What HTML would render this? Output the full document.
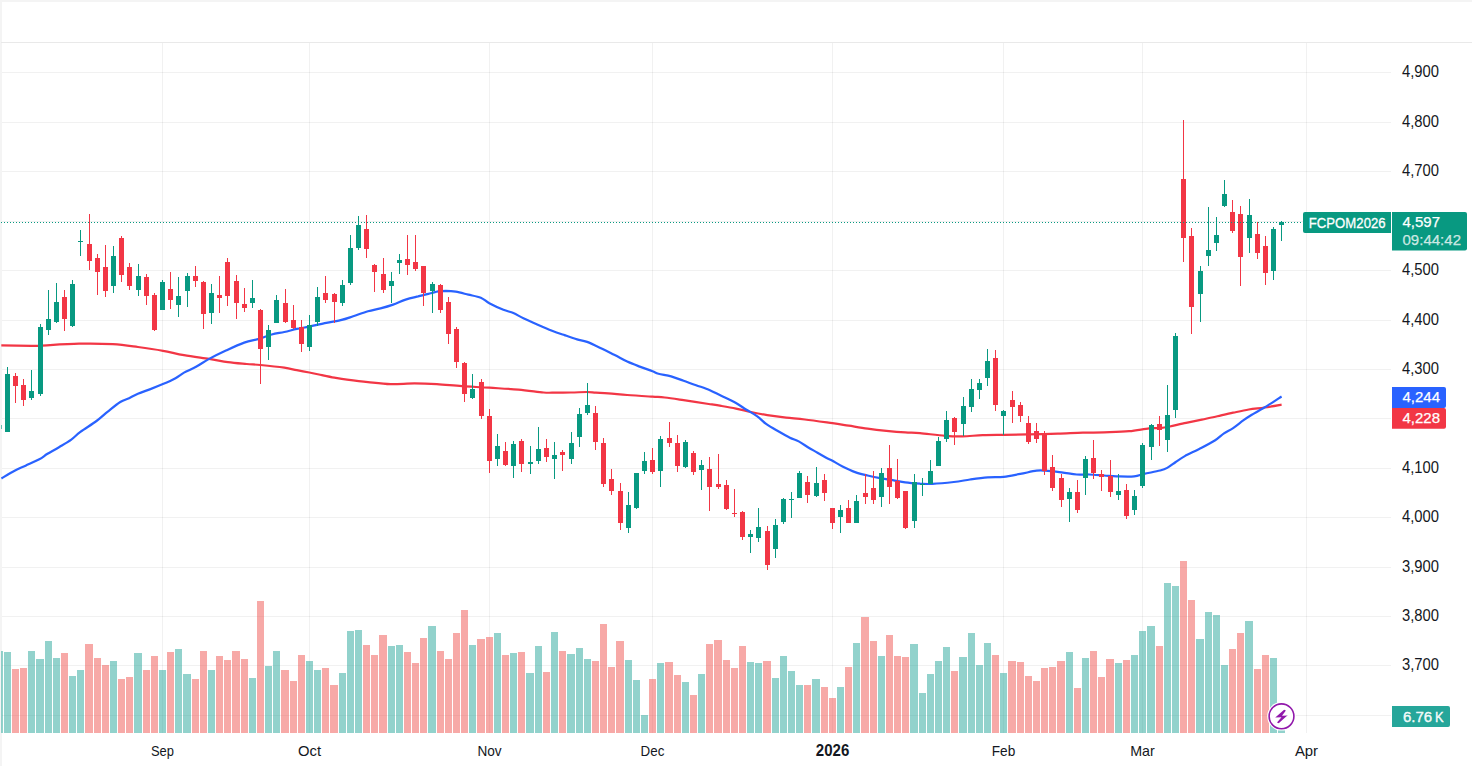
<!DOCTYPE html>
<html><head><meta charset="utf-8"><title>FCPOM2026</title>
<style>html,body{margin:0;padding:0;background:#fff;overflow:hidden}svg{display:block}text{font-family:"Liberation Sans",sans-serif}</style>
</head><body>
<svg width="1472" height="766" viewBox="0 0 1472 766">
<rect x="0" y="0" width="1472" height="766" fill="#ffffff"/>
<g shape-rendering="crispEdges">
<rect x="0" y="0" width="1472" height="2" fill="#f4f4f4"/>
<rect x="0" y="0" width="2" height="766" fill="#f4f4f4"/>
<rect x="1" y="42" width="1471" height="1" fill="#e9e9e9"/>
<rect x="2" y="72" width="1389" height="1" fill="rgba(0,0,0,0.055)"/>
<rect x="2" y="122" width="1389" height="1" fill="rgba(0,0,0,0.055)"/>
<rect x="2" y="171" width="1389" height="1" fill="rgba(0,0,0,0.055)"/>
<rect x="2" y="221" width="1389" height="1" fill="rgba(0,0,0,0.055)"/>
<rect x="2" y="270" width="1389" height="1" fill="rgba(0,0,0,0.055)"/>
<rect x="2" y="320" width="1389" height="1" fill="rgba(0,0,0,0.055)"/>
<rect x="2" y="369" width="1389" height="1" fill="rgba(0,0,0,0.055)"/>
<rect x="2" y="418" width="1389" height="1" fill="rgba(0,0,0,0.055)"/>
<rect x="2" y="468" width="1389" height="1" fill="rgba(0,0,0,0.055)"/>
<rect x="2" y="517" width="1389" height="1" fill="rgba(0,0,0,0.055)"/>
<rect x="2" y="567" width="1389" height="1" fill="rgba(0,0,0,0.055)"/>
<rect x="2" y="616" width="1389" height="1" fill="rgba(0,0,0,0.055)"/>
<rect x="2" y="665" width="1389" height="1" fill="rgba(0,0,0,0.055)"/>
<rect x="2" y="715" width="1389" height="1" fill="rgba(0,0,0,0.055)"/>
<rect x="162" y="43" width="1" height="690" fill="rgba(0,0,0,0.055)"/>
<rect x="309" y="43" width="1" height="690" fill="rgba(0,0,0,0.055)"/>
<rect x="489" y="43" width="1" height="690" fill="rgba(0,0,0,0.055)"/>
<rect x="652" y="43" width="1" height="690" fill="rgba(0,0,0,0.055)"/>
<rect x="832" y="43" width="1" height="690" fill="rgba(0,0,0,0.055)"/>
<rect x="1003" y="43" width="1" height="690" fill="rgba(0,0,0,0.055)"/>
<rect x="1142" y="43" width="1" height="690" fill="rgba(0,0,0,0.055)"/>
<rect x="1306" y="43" width="1" height="690" fill="rgba(0,0,0,0.055)"/>
<rect x="4" y="652" width="7" height="81" fill="rgba(38,166,154,0.5)"/>
<rect x="12" y="669" width="7" height="64" fill="rgba(239,83,80,0.5)"/>
<rect x="20" y="668" width="7" height="65" fill="rgba(239,83,80,0.5)"/>
<rect x="28" y="651" width="7" height="82" fill="rgba(38,166,154,0.5)"/>
<rect x="36" y="659" width="8" height="74" fill="rgba(38,166,154,0.5)"/>
<rect x="45" y="641" width="7" height="92" fill="rgba(38,166,154,0.5)"/>
<rect x="53" y="658" width="7" height="75" fill="rgba(38,166,154,0.5)"/>
<rect x="61" y="653" width="7" height="80" fill="rgba(239,83,80,0.5)"/>
<rect x="69" y="676" width="7" height="57" fill="rgba(38,166,154,0.5)"/>
<rect x="77" y="670" width="7" height="63" fill="rgba(38,166,154,0.5)"/>
<rect x="85" y="644" width="8" height="89" fill="rgba(239,83,80,0.5)"/>
<rect x="94" y="658" width="7" height="75" fill="rgba(239,83,80,0.5)"/>
<rect x="102" y="665" width="7" height="68" fill="rgba(239,83,80,0.5)"/>
<rect x="110" y="661" width="7" height="72" fill="rgba(38,166,154,0.5)"/>
<rect x="118" y="679" width="7" height="54" fill="rgba(239,83,80,0.5)"/>
<rect x="126" y="677" width="7" height="56" fill="rgba(239,83,80,0.5)"/>
<rect x="134" y="653" width="8" height="80" fill="rgba(38,166,154,0.5)"/>
<rect x="143" y="670" width="7" height="63" fill="rgba(239,83,80,0.5)"/>
<rect x="151" y="656" width="7" height="77" fill="rgba(239,83,80,0.5)"/>
<rect x="159" y="670" width="7" height="63" fill="rgba(38,166,154,0.5)"/>
<rect x="167" y="652" width="7" height="81" fill="rgba(239,83,80,0.5)"/>
<rect x="175" y="649" width="7" height="84" fill="rgba(38,166,154,0.5)"/>
<rect x="183" y="674" width="8" height="59" fill="rgba(38,166,154,0.5)"/>
<rect x="192" y="679" width="7" height="54" fill="rgba(239,83,80,0.5)"/>
<rect x="200" y="651" width="7" height="82" fill="rgba(239,83,80,0.5)"/>
<rect x="208" y="670" width="7" height="63" fill="rgba(38,166,154,0.5)"/>
<rect x="216" y="656" width="7" height="77" fill="rgba(239,83,80,0.5)"/>
<rect x="224" y="660" width="7" height="73" fill="rgba(239,83,80,0.5)"/>
<rect x="232" y="651" width="8" height="82" fill="rgba(239,83,80,0.5)"/>
<rect x="241" y="659" width="7" height="74" fill="rgba(239,83,80,0.5)"/>
<rect x="249" y="678" width="7" height="55" fill="rgba(38,166,154,0.5)"/>
<rect x="257" y="601" width="7" height="132" fill="rgba(239,83,80,0.5)"/>
<rect x="265" y="666" width="7" height="67" fill="rgba(38,166,154,0.5)"/>
<rect x="273" y="651" width="7" height="82" fill="rgba(38,166,154,0.5)"/>
<rect x="281" y="670" width="8" height="63" fill="rgba(239,83,80,0.5)"/>
<rect x="290" y="681" width="7" height="52" fill="rgba(239,83,80,0.5)"/>
<rect x="298" y="655" width="7" height="78" fill="rgba(239,83,80,0.5)"/>
<rect x="306" y="661" width="7" height="72" fill="rgba(38,166,154,0.5)"/>
<rect x="314" y="670" width="7" height="63" fill="rgba(38,166,154,0.5)"/>
<rect x="322" y="668" width="7" height="65" fill="rgba(239,83,80,0.5)"/>
<rect x="330" y="685" width="8" height="48" fill="rgba(239,83,80,0.5)"/>
<rect x="339" y="673" width="7" height="60" fill="rgba(38,166,154,0.5)"/>
<rect x="347" y="631" width="7" height="102" fill="rgba(38,166,154,0.5)"/>
<rect x="355" y="630" width="7" height="103" fill="rgba(38,166,154,0.5)"/>
<rect x="363" y="645" width="7" height="88" fill="rgba(239,83,80,0.5)"/>
<rect x="371" y="655" width="7" height="78" fill="rgba(239,83,80,0.5)"/>
<rect x="379" y="635" width="8" height="98" fill="rgba(239,83,80,0.5)"/>
<rect x="388" y="646" width="7" height="87" fill="rgba(38,166,154,0.5)"/>
<rect x="396" y="645" width="7" height="88" fill="rgba(38,166,154,0.5)"/>
<rect x="404" y="652" width="7" height="81" fill="rgba(239,83,80,0.5)"/>
<rect x="412" y="663" width="7" height="70" fill="rgba(239,83,80,0.5)"/>
<rect x="420" y="638" width="7" height="95" fill="rgba(239,83,80,0.5)"/>
<rect x="428" y="626" width="8" height="107" fill="rgba(38,166,154,0.5)"/>
<rect x="437" y="651" width="7" height="82" fill="rgba(239,83,80,0.5)"/>
<rect x="445" y="659" width="7" height="74" fill="rgba(239,83,80,0.5)"/>
<rect x="453" y="633" width="7" height="100" fill="rgba(239,83,80,0.5)"/>
<rect x="461" y="610" width="7" height="123" fill="rgba(239,83,80,0.5)"/>
<rect x="469" y="645" width="7" height="88" fill="rgba(38,166,154,0.5)"/>
<rect x="477" y="639" width="8" height="94" fill="rgba(239,83,80,0.5)"/>
<rect x="486" y="637" width="7" height="96" fill="rgba(239,83,80,0.5)"/>
<rect x="494" y="633" width="7" height="100" fill="rgba(38,166,154,0.5)"/>
<rect x="502" y="655" width="7" height="78" fill="rgba(239,83,80,0.5)"/>
<rect x="510" y="653" width="7" height="80" fill="rgba(38,166,154,0.5)"/>
<rect x="518" y="652" width="7" height="81" fill="rgba(239,83,80,0.5)"/>
<rect x="526" y="673" width="8" height="60" fill="rgba(38,166,154,0.5)"/>
<rect x="535" y="646" width="7" height="87" fill="rgba(38,166,154,0.5)"/>
<rect x="543" y="672" width="7" height="61" fill="rgba(239,83,80,0.5)"/>
<rect x="551" y="632" width="7" height="101" fill="rgba(38,166,154,0.5)"/>
<rect x="559" y="651" width="7" height="82" fill="rgba(239,83,80,0.5)"/>
<rect x="567" y="654" width="8" height="79" fill="rgba(38,166,154,0.5)"/>
<rect x="576" y="648" width="7" height="85" fill="rgba(38,166,154,0.5)"/>
<rect x="584" y="659" width="7" height="74" fill="rgba(38,166,154,0.5)"/>
<rect x="592" y="661" width="7" height="72" fill="rgba(239,83,80,0.5)"/>
<rect x="600" y="624" width="7" height="109" fill="rgba(239,83,80,0.5)"/>
<rect x="608" y="667" width="7" height="66" fill="rgba(239,83,80,0.5)"/>
<rect x="616" y="641" width="8" height="92" fill="rgba(239,83,80,0.5)"/>
<rect x="625" y="660" width="7" height="73" fill="rgba(38,166,154,0.5)"/>
<rect x="633" y="680" width="7" height="53" fill="rgba(38,166,154,0.5)"/>
<rect x="641" y="715" width="7" height="18" fill="rgba(38,166,154,0.5)"/>
<rect x="649" y="679" width="7" height="54" fill="rgba(239,83,80,0.5)"/>
<rect x="657" y="663" width="7" height="70" fill="rgba(38,166,154,0.5)"/>
<rect x="665" y="662" width="8" height="71" fill="rgba(239,83,80,0.5)"/>
<rect x="674" y="675" width="7" height="58" fill="rgba(239,83,80,0.5)"/>
<rect x="682" y="682" width="7" height="51" fill="rgba(38,166,154,0.5)"/>
<rect x="690" y="695" width="7" height="38" fill="rgba(239,83,80,0.5)"/>
<rect x="698" y="674" width="7" height="59" fill="rgba(38,166,154,0.5)"/>
<rect x="706" y="644" width="7" height="89" fill="rgba(239,83,80,0.5)"/>
<rect x="714" y="640" width="8" height="93" fill="rgba(239,83,80,0.5)"/>
<rect x="723" y="660" width="7" height="73" fill="rgba(239,83,80,0.5)"/>
<rect x="731" y="668" width="7" height="65" fill="rgba(239,83,80,0.5)"/>
<rect x="739" y="646" width="7" height="87" fill="rgba(239,83,80,0.5)"/>
<rect x="747" y="662" width="7" height="71" fill="rgba(38,166,154,0.5)"/>
<rect x="755" y="663" width="7" height="70" fill="rgba(38,166,154,0.5)"/>
<rect x="763" y="661" width="8" height="72" fill="rgba(239,83,80,0.5)"/>
<rect x="772" y="678" width="7" height="55" fill="rgba(38,166,154,0.5)"/>
<rect x="780" y="656" width="7" height="77" fill="rgba(38,166,154,0.5)"/>
<rect x="788" y="671" width="7" height="62" fill="rgba(38,166,154,0.5)"/>
<rect x="796" y="685" width="7" height="48" fill="rgba(38,166,154,0.5)"/>
<rect x="804" y="685" width="7" height="48" fill="rgba(239,83,80,0.5)"/>
<rect x="812" y="679" width="8" height="54" fill="rgba(38,166,154,0.5)"/>
<rect x="821" y="687" width="7" height="46" fill="rgba(239,83,80,0.5)"/>
<rect x="829" y="698" width="7" height="35" fill="rgba(239,83,80,0.5)"/>
<rect x="837" y="687" width="7" height="46" fill="rgba(38,166,154,0.5)"/>
<rect x="845" y="667" width="7" height="66" fill="rgba(239,83,80,0.5)"/>
<rect x="853" y="643" width="7" height="90" fill="rgba(38,166,154,0.5)"/>
<rect x="861" y="617" width="8" height="116" fill="rgba(239,83,80,0.5)"/>
<rect x="870" y="641" width="7" height="92" fill="rgba(239,83,80,0.5)"/>
<rect x="878" y="656" width="7" height="77" fill="rgba(38,166,154,0.5)"/>
<rect x="886" y="635" width="7" height="98" fill="rgba(239,83,80,0.5)"/>
<rect x="894" y="656" width="7" height="77" fill="rgba(239,83,80,0.5)"/>
<rect x="902" y="657" width="7" height="76" fill="rgba(239,83,80,0.5)"/>
<rect x="910" y="644" width="8" height="89" fill="rgba(38,166,154,0.5)"/>
<rect x="919" y="693" width="7" height="40" fill="rgba(38,166,154,0.5)"/>
<rect x="927" y="674" width="7" height="59" fill="rgba(38,166,154,0.5)"/>
<rect x="935" y="661" width="7" height="72" fill="rgba(38,166,154,0.5)"/>
<rect x="943" y="647" width="7" height="86" fill="rgba(38,166,154,0.5)"/>
<rect x="951" y="671" width="7" height="62" fill="rgba(239,83,80,0.5)"/>
<rect x="959" y="657" width="8" height="76" fill="rgba(38,166,154,0.5)"/>
<rect x="968" y="633" width="7" height="100" fill="rgba(38,166,154,0.5)"/>
<rect x="976" y="665" width="7" height="68" fill="rgba(38,166,154,0.5)"/>
<rect x="984" y="643" width="7" height="90" fill="rgba(38,166,154,0.5)"/>
<rect x="992" y="655" width="7" height="78" fill="rgba(239,83,80,0.5)"/>
<rect x="1000" y="673" width="7" height="60" fill="rgba(38,166,154,0.5)"/>
<rect x="1008" y="661" width="8" height="72" fill="rgba(239,83,80,0.5)"/>
<rect x="1017" y="662" width="7" height="71" fill="rgba(239,83,80,0.5)"/>
<rect x="1025" y="676" width="7" height="57" fill="rgba(239,83,80,0.5)"/>
<rect x="1033" y="681" width="7" height="52" fill="rgba(239,83,80,0.5)"/>
<rect x="1041" y="668" width="7" height="65" fill="rgba(239,83,80,0.5)"/>
<rect x="1049" y="667" width="7" height="66" fill="rgba(239,83,80,0.5)"/>
<rect x="1057" y="661" width="8" height="72" fill="rgba(239,83,80,0.5)"/>
<rect x="1066" y="652" width="7" height="81" fill="rgba(38,166,154,0.5)"/>
<rect x="1074" y="688" width="7" height="45" fill="rgba(239,83,80,0.5)"/>
<rect x="1082" y="658" width="7" height="75" fill="rgba(38,166,154,0.5)"/>
<rect x="1090" y="651" width="7" height="82" fill="rgba(239,83,80,0.5)"/>
<rect x="1098" y="677" width="7" height="56" fill="rgba(239,83,80,0.5)"/>
<rect x="1106" y="659" width="8" height="74" fill="rgba(239,83,80,0.5)"/>
<rect x="1115" y="663" width="7" height="70" fill="rgba(38,166,154,0.5)"/>
<rect x="1123" y="660" width="7" height="73" fill="rgba(239,83,80,0.5)"/>
<rect x="1131" y="655" width="7" height="78" fill="rgba(38,166,154,0.5)"/>
<rect x="1139" y="631" width="7" height="102" fill="rgba(38,166,154,0.5)"/>
<rect x="1147" y="626" width="8" height="107" fill="rgba(38,166,154,0.5)"/>
<rect x="1156" y="646" width="7" height="87" fill="rgba(239,83,80,0.5)"/>
<rect x="1164" y="583" width="7" height="150" fill="rgba(38,166,154,0.5)"/>
<rect x="1172" y="586" width="7" height="147" fill="rgba(38,166,154,0.5)"/>
<rect x="1180" y="561" width="7" height="172" fill="rgba(239,83,80,0.5)"/>
<rect x="1188" y="600" width="7" height="133" fill="rgba(239,83,80,0.5)"/>
<rect x="1196" y="639" width="8" height="94" fill="rgba(38,166,154,0.5)"/>
<rect x="1205" y="612" width="7" height="121" fill="rgba(38,166,154,0.5)"/>
<rect x="1213" y="615" width="7" height="118" fill="rgba(38,166,154,0.5)"/>
<rect x="1221" y="665" width="7" height="68" fill="rgba(38,166,154,0.5)"/>
<rect x="1229" y="649" width="7" height="84" fill="rgba(239,83,80,0.5)"/>
<rect x="1237" y="633" width="7" height="100" fill="rgba(239,83,80,0.5)"/>
<rect x="1245" y="621" width="8" height="112" fill="rgba(38,166,154,0.5)"/>
<rect x="1254" y="669" width="7" height="64" fill="rgba(239,83,80,0.5)"/>
<rect x="1262" y="655" width="7" height="78" fill="rgba(239,83,80,0.5)"/>
<rect x="1270" y="658" width="7" height="75" fill="rgba(38,166,154,0.5)"/>
<rect x="1278" y="716" width="7" height="17" fill="rgba(38,166,154,0.5)"/>
<rect x="1" y="651" width="2" height="82" fill="rgba(38,166,154,0.5)"/>
</g>
<path d="M1.3,345.4C6.3,345.5 24.8,345.8 31.3,345.9C37.8,345.9 32.5,346.1 40.5,345.7C48.5,345.3 67.0,343.9 79.0,343.7C91.0,343.4 103.0,343.6 112.8,344.2C122.6,344.8 129.5,345.9 137.9,347.0C146.3,348.1 155.3,349.4 163.0,350.8C170.7,352.2 176.3,353.9 184.0,355.2C191.7,356.5 201.8,357.8 209.1,358.9C216.4,360.0 221.6,361.2 227.9,362.1C234.2,363.0 241.3,363.5 246.7,364.0C252.1,364.5 254.2,364.4 260.5,365.0C266.8,365.6 278.2,366.8 284.3,367.7C290.4,368.6 292.6,369.4 296.8,370.2C301.0,371.0 305.1,371.7 309.3,372.5C313.5,373.3 317.7,374.3 321.9,375.2C326.1,376.1 330.2,377.0 334.4,377.7C338.6,378.4 341.4,378.9 347.0,379.6C352.6,380.3 360.7,381.3 368.0,382.1C375.3,382.9 382.9,384.0 390.6,384.2C398.3,384.4 406.7,383.4 414.4,383.4C422.1,383.4 429.0,383.7 436.9,384.2C444.8,384.7 453.3,385.6 462.0,386.2C470.7,386.8 479.9,387.1 489.3,387.7C498.7,388.3 509.4,388.8 518.4,389.6C527.4,390.4 537.9,392.0 543.5,392.5C549.1,393.0 547.5,392.7 552.0,392.7C556.5,392.7 564.9,392.6 570.8,392.5C576.6,392.4 582.9,392.0 587.1,392.0C591.3,392.0 592.4,392.5 595.9,392.7C599.4,392.9 603.2,392.9 608.4,393.3C613.6,393.7 619.9,394.4 627.2,395.0C634.6,395.6 646.2,396.3 652.5,396.7C658.8,397.1 659.6,396.9 664.8,397.5C670.0,398.1 676.3,399.1 683.6,400.2C690.9,401.3 702.4,403.1 708.7,404.0C715.0,404.9 716.7,405.1 721.2,405.9C725.8,406.7 731.0,407.6 736.0,408.6C741.0,409.6 745.8,410.9 751.0,412.0C756.2,413.1 761.4,414.2 767.3,415.1C773.1,416.0 779.8,416.9 786.1,417.6C792.4,418.3 797.2,418.6 804.9,419.5C812.6,420.4 825.2,422.2 832.5,423.2C839.8,424.2 842.9,424.8 848.8,425.7C854.6,426.6 861.3,427.8 867.6,428.6C873.9,429.5 880.1,430.2 886.4,430.8C892.7,431.4 899.6,432.0 905.2,432.4C910.8,432.8 913.4,432.5 920.0,433.1C926.6,433.7 938.0,435.3 945.1,435.8C952.2,436.3 956.3,436.4 962.6,436.3C968.9,436.2 975.9,435.4 982.7,435.2C989.6,435.0 996.2,435.0 1003.7,434.9C1011.2,434.8 1018.8,434.6 1027.8,434.4C1036.8,434.2 1048.7,434.0 1057.9,433.7C1067.1,433.4 1075.2,432.9 1082.9,432.7C1090.6,432.5 1096.3,432.6 1104.0,432.4C1111.7,432.1 1121.6,431.9 1129.1,431.2C1136.6,430.5 1143.9,428.9 1149.1,428.4C1154.2,427.9 1156.5,428.4 1160.0,428.1C1163.5,427.8 1165.5,427.4 1169.8,426.5C1174.1,425.6 1180.8,424.0 1186.1,422.9C1191.4,421.8 1196.6,420.7 1201.8,419.6C1207.0,418.5 1212.2,417.5 1217.4,416.3C1222.6,415.1 1227.9,413.8 1233.1,412.7C1238.3,411.6 1243.6,410.4 1248.8,409.5C1254.0,408.6 1258.9,408.3 1264.4,407.5C1269.9,406.7 1278.7,405.1 1281.6,404.6" fill="none" stroke="#f23645" stroke-width="2.2" stroke-linejoin="round" stroke-linecap="butt"/>
<path d="M1.4,478.5C3.6,477.2 10.6,472.8 14.6,470.7C18.6,468.6 21.5,467.6 25.6,465.7C29.7,463.8 35.6,461.3 39.3,459.3C42.9,457.3 44.1,455.9 47.5,453.8C50.9,451.8 55.4,449.4 59.4,447.0C63.4,444.6 67.8,442.1 71.3,439.6C74.8,437.1 76.2,435.0 80.4,431.9C84.6,428.8 91.9,424.4 96.5,421.0C101.1,417.6 103.8,414.8 107.8,411.6C111.8,408.4 116.8,404.2 120.3,402.0C123.8,399.8 126.2,399.6 129.1,398.2C132.0,396.8 134.3,395.3 137.9,393.8C141.5,392.3 146.2,390.7 150.4,389.1C154.6,387.5 158.7,385.9 162.9,384.1C167.1,382.3 172.0,380.1 175.5,378.2C179.0,376.3 180.5,374.6 184.0,372.6C187.5,370.7 192.3,368.8 196.5,366.5C200.7,364.2 204.3,361.5 209.1,358.9C213.9,356.3 219.6,353.5 225.4,350.8C231.2,348.1 238.6,344.6 244.2,342.6C249.8,340.6 254.6,340.2 259.2,338.9C263.8,337.5 267.5,335.6 271.7,334.5C275.9,333.4 280.1,332.9 284.3,332.0C288.5,331.1 292.6,329.8 296.8,328.9C301.0,328.0 305.1,327.5 309.3,326.6C313.5,325.8 316.7,324.9 321.9,323.8C327.1,322.7 335.5,321.4 340.7,320.1C345.9,318.9 348.6,317.8 353.2,316.3C357.8,314.8 363.4,312.6 368.0,311.3C372.6,310.0 376.3,309.5 380.5,308.4C384.7,307.3 388.9,306.1 393.1,304.6C397.3,303.1 401.4,301.0 405.6,299.6C409.8,298.2 413.9,297.4 418.1,296.4C422.3,295.3 427.4,294.1 430.7,293.3C434.0,292.5 435.7,291.8 438.2,291.4C440.7,291.0 442.8,290.8 445.7,290.8C448.6,290.9 451.9,291.1 455.7,291.7C459.5,292.3 464.1,293.6 468.3,294.6C472.5,295.6 477.3,296.3 480.8,297.7C484.3,299.1 485.5,301.2 489.3,303.2C493.1,305.2 499.4,308.2 503.4,309.8C507.4,311.4 510.1,311.6 513.4,313.0C516.7,314.4 519.4,316.4 523.4,318.3C527.4,320.2 532.4,322.3 537.2,324.4C542.0,326.5 547.5,328.9 552.0,330.7C556.5,332.5 560.3,333.7 564.5,335.1C568.7,336.6 573.3,338.3 577.1,339.4C580.9,340.5 582.9,340.3 587.1,341.9C591.3,343.5 597.5,346.6 602.1,348.8C606.7,351.0 610.5,353.0 614.7,355.1C618.9,357.2 623.0,359.7 627.2,361.6C631.4,363.5 635.5,365.0 639.7,366.6C643.9,368.2 649.4,370.0 652.5,371.2C655.6,372.4 655.4,372.8 658.5,373.7C661.6,374.6 666.9,375.2 671.1,376.4C675.3,377.6 679.4,379.3 683.6,380.8C687.8,382.3 691.7,383.6 696.1,385.2C700.5,386.8 705.7,388.4 709.9,390.2C714.1,392.0 716.9,393.7 721.2,395.8C725.6,397.9 731.9,400.7 736.0,403.0C740.1,405.3 742.5,407.3 746.0,409.5C749.5,411.7 753.9,413.9 757.3,416.3C760.6,418.7 762.8,421.5 766.1,423.9C769.5,426.3 773.4,428.5 777.4,430.8C781.4,433.1 786.3,435.9 789.9,437.7C793.5,439.5 795.6,439.7 798.7,441.4C801.8,443.1 805.6,445.8 808.7,447.7C811.8,449.6 814.6,451.0 817.5,452.7C820.4,454.4 823.7,456.3 826.2,457.7C828.7,459.1 829.8,459.3 832.5,460.8C835.2,462.3 838.7,464.6 842.5,466.5C846.3,468.4 850.9,470.6 855.1,472.1C859.3,473.6 863.4,474.5 867.6,475.5C871.8,476.5 875.9,477.4 880.1,478.2C884.3,479.0 888.5,479.4 892.7,480.1C896.9,480.8 900.7,481.8 905.2,482.4C909.8,483.0 915.5,483.4 920.0,483.7C924.5,483.9 926.9,484.2 932.5,483.9C938.1,483.6 947.5,482.7 953.8,482.0C960.1,481.3 964.5,480.3 970.1,479.5C975.8,478.7 982.1,477.8 987.7,477.4C993.3,476.9 998.3,477.4 1003.7,476.8C1009.1,476.2 1014.8,474.9 1020.3,473.9C1025.8,472.9 1032.4,471.2 1036.6,470.7C1040.8,470.2 1041.1,470.4 1045.3,470.7C1049.5,471.0 1056.4,471.8 1061.6,472.4C1066.8,473.0 1072.1,474.1 1076.7,474.5C1081.3,474.9 1084.7,474.3 1089.2,474.5C1093.8,474.7 1099.5,475.2 1104.0,475.5C1108.5,475.8 1111.5,476.2 1116.5,476.4C1121.5,476.5 1129.5,476.8 1134.1,476.4C1138.7,476.0 1139.8,474.9 1144.1,473.9C1148.4,472.9 1156.2,471.5 1160.0,470.5C1163.8,469.5 1164.6,469.3 1167.2,467.9C1169.8,466.5 1172.8,464.0 1175.7,462.0C1178.6,460.0 1180.9,458.3 1184.8,456.1C1188.7,453.9 1194.2,451.6 1199.2,449.0C1204.2,446.4 1210.7,443.1 1214.8,440.5C1218.9,437.9 1221.0,435.4 1224.0,433.3C1227.0,431.2 1229.8,430.3 1233.1,428.1C1236.4,425.9 1240.5,422.4 1243.6,420.2C1246.6,418.0 1248.8,416.6 1251.4,415.0C1254.0,413.4 1257.0,411.8 1259.2,410.5C1261.4,409.2 1262.2,408.8 1264.4,407.5C1266.6,406.2 1269.4,404.4 1272.3,402.6C1275.2,400.8 1280.0,397.5 1281.6,396.5" fill="none" stroke="#2962ff" stroke-width="2.2" stroke-linejoin="round" stroke-linecap="butt"/>
<g shape-rendering="crispEdges">
<rect x="1" y="425" width="1" height="4" fill="#089981" opacity="0.6"/>
<rect x="7" y="367" width="1" height="65" fill="#089981"/>
<rect x="5" y="374" width="5" height="58" fill="#089981"/>
<rect x="15" y="373" width="1" height="30" fill="#f23645"/>
<rect x="13" y="376" width="5" height="10" fill="#f23645"/>
<rect x="23" y="379" width="1" height="27" fill="#f23645"/>
<rect x="21" y="385" width="5" height="15" fill="#f23645"/>
<rect x="31" y="370" width="1" height="30" fill="#089981"/>
<rect x="29" y="391" width="5" height="7" fill="#089981"/>
<rect x="40" y="324" width="1" height="72" fill="#089981"/>
<rect x="38" y="327" width="5" height="67" fill="#089981"/>
<rect x="48" y="290" width="1" height="45" fill="#089981"/>
<rect x="46" y="319" width="5" height="11" fill="#089981"/>
<rect x="56" y="283" width="1" height="40" fill="#089981"/>
<rect x="54" y="302" width="5" height="20" fill="#089981"/>
<rect x="64" y="290" width="1" height="41" fill="#f23645"/>
<rect x="62" y="297" width="5" height="22" fill="#f23645"/>
<rect x="72" y="280" width="1" height="47" fill="#089981"/>
<rect x="70" y="284" width="5" height="42" fill="#089981"/>
<rect x="80" y="230" width="1" height="26" fill="#089981"/>
<rect x="78" y="241" width="5" height="1" fill="#089981"/>
<rect x="89" y="214" width="1" height="56" fill="#f23645"/>
<rect x="87" y="244" width="5" height="17" fill="#f23645"/>
<rect x="97" y="254" width="1" height="41" fill="#f23645"/>
<rect x="95" y="258" width="5" height="14" fill="#f23645"/>
<rect x="105" y="245" width="1" height="52" fill="#f23645"/>
<rect x="103" y="267" width="5" height="24" fill="#f23645"/>
<rect x="113" y="246" width="1" height="47" fill="#089981"/>
<rect x="111" y="256" width="5" height="30" fill="#089981"/>
<rect x="121" y="236" width="1" height="46" fill="#f23645"/>
<rect x="119" y="238" width="5" height="37" fill="#f23645"/>
<rect x="129" y="263" width="1" height="27" fill="#f23645"/>
<rect x="127" y="267" width="5" height="19" fill="#f23645"/>
<rect x="138" y="264" width="1" height="32" fill="#089981"/>
<rect x="136" y="276" width="5" height="14" fill="#089981"/>
<rect x="146" y="274" width="1" height="31" fill="#f23645"/>
<rect x="144" y="277" width="5" height="19" fill="#f23645"/>
<rect x="154" y="293" width="1" height="38" fill="#f23645"/>
<rect x="152" y="295" width="5" height="35" fill="#f23645"/>
<rect x="162" y="280" width="1" height="30" fill="#089981"/>
<rect x="160" y="282" width="5" height="28" fill="#089981"/>
<rect x="170" y="272" width="1" height="37" fill="#f23645"/>
<rect x="168" y="289" width="5" height="11" fill="#f23645"/>
<rect x="178" y="277" width="1" height="40" fill="#089981"/>
<rect x="176" y="296" width="5" height="9" fill="#089981"/>
<rect x="187" y="273" width="1" height="34" fill="#089981"/>
<rect x="185" y="276" width="5" height="15" fill="#089981"/>
<rect x="195" y="266" width="1" height="21" fill="#f23645"/>
<rect x="193" y="276" width="5" height="5" fill="#f23645"/>
<rect x="203" y="281" width="1" height="48" fill="#f23645"/>
<rect x="201" y="282" width="5" height="32" fill="#f23645"/>
<rect x="211" y="284" width="1" height="40" fill="#089981"/>
<rect x="209" y="293" width="5" height="20" fill="#089981"/>
<rect x="219" y="276" width="1" height="37" fill="#f23645"/>
<rect x="217" y="295" width="5" height="3" fill="#f23645"/>
<rect x="227" y="258" width="1" height="48" fill="#f23645"/>
<rect x="225" y="262" width="5" height="34" fill="#f23645"/>
<rect x="236" y="275" width="1" height="44" fill="#f23645"/>
<rect x="234" y="281" width="5" height="22" fill="#f23645"/>
<rect x="244" y="288" width="1" height="24" fill="#f23645"/>
<rect x="242" y="304" width="5" height="4" fill="#f23645"/>
<rect x="252" y="280" width="1" height="28" fill="#089981"/>
<rect x="250" y="298" width="5" height="5" fill="#089981"/>
<rect x="260" y="309" width="1" height="75" fill="#f23645"/>
<rect x="258" y="310" width="5" height="39" fill="#f23645"/>
<rect x="268" y="325" width="1" height="35" fill="#089981"/>
<rect x="266" y="330" width="5" height="17" fill="#089981"/>
<rect x="276" y="295" width="1" height="28" fill="#089981"/>
<rect x="274" y="300" width="5" height="23" fill="#089981"/>
<rect x="285" y="289" width="1" height="34" fill="#f23645"/>
<rect x="283" y="303" width="5" height="19" fill="#f23645"/>
<rect x="293" y="305" width="1" height="24" fill="#f23645"/>
<rect x="291" y="320" width="5" height="8" fill="#f23645"/>
<rect x="301" y="320" width="1" height="32" fill="#f23645"/>
<rect x="299" y="327" width="5" height="17" fill="#f23645"/>
<rect x="309" y="315" width="1" height="36" fill="#089981"/>
<rect x="307" y="325" width="5" height="22" fill="#089981"/>
<rect x="317" y="287" width="1" height="39" fill="#089981"/>
<rect x="315" y="297" width="5" height="25" fill="#089981"/>
<rect x="325" y="276" width="1" height="27" fill="#f23645"/>
<rect x="323" y="293" width="5" height="7" fill="#f23645"/>
<rect x="334" y="293" width="1" height="30" fill="#f23645"/>
<rect x="332" y="294" width="5" height="8" fill="#f23645"/>
<rect x="342" y="280" width="1" height="26" fill="#089981"/>
<rect x="340" y="285" width="5" height="18" fill="#089981"/>
<rect x="350" y="235" width="1" height="50" fill="#089981"/>
<rect x="348" y="248" width="5" height="35" fill="#089981"/>
<rect x="358" y="216" width="1" height="34" fill="#089981"/>
<rect x="356" y="225" width="5" height="23" fill="#089981"/>
<rect x="366" y="215" width="1" height="43" fill="#f23645"/>
<rect x="364" y="229" width="5" height="20" fill="#f23645"/>
<rect x="374" y="264" width="1" height="28" fill="#f23645"/>
<rect x="372" y="265" width="5" height="7" fill="#f23645"/>
<rect x="383" y="258" width="1" height="35" fill="#f23645"/>
<rect x="381" y="274" width="5" height="16" fill="#f23645"/>
<rect x="391" y="272" width="1" height="31" fill="#089981"/>
<rect x="389" y="281" width="5" height="5" fill="#089981"/>
<rect x="399" y="254" width="1" height="20" fill="#089981"/>
<rect x="397" y="260" width="5" height="3" fill="#089981"/>
<rect x="407" y="235" width="1" height="40" fill="#f23645"/>
<rect x="405" y="259" width="5" height="6" fill="#f23645"/>
<rect x="415" y="235" width="1" height="36" fill="#f23645"/>
<rect x="413" y="262" width="5" height="7" fill="#f23645"/>
<rect x="423" y="266" width="1" height="40" fill="#f23645"/>
<rect x="421" y="266" width="5" height="27" fill="#f23645"/>
<rect x="432" y="282" width="1" height="31" fill="#089981"/>
<rect x="430" y="284" width="5" height="7" fill="#089981"/>
<rect x="440" y="284" width="1" height="29" fill="#f23645"/>
<rect x="438" y="285" width="5" height="25" fill="#f23645"/>
<rect x="448" y="297" width="1" height="47" fill="#f23645"/>
<rect x="446" y="302" width="5" height="32" fill="#f23645"/>
<rect x="456" y="327" width="1" height="41" fill="#f23645"/>
<rect x="454" y="329" width="5" height="33" fill="#f23645"/>
<rect x="464" y="362" width="1" height="40" fill="#f23645"/>
<rect x="462" y="363" width="5" height="31" fill="#f23645"/>
<rect x="472" y="374" width="1" height="25" fill="#089981"/>
<rect x="470" y="389" width="5" height="9" fill="#089981"/>
<rect x="481" y="379" width="1" height="40" fill="#f23645"/>
<rect x="479" y="382" width="5" height="34" fill="#f23645"/>
<rect x="489" y="409" width="1" height="64" fill="#f23645"/>
<rect x="487" y="416" width="5" height="45" fill="#f23645"/>
<rect x="497" y="434" width="1" height="32" fill="#089981"/>
<rect x="495" y="446" width="5" height="13" fill="#089981"/>
<rect x="505" y="442" width="1" height="24" fill="#f23645"/>
<rect x="503" y="451" width="5" height="14" fill="#f23645"/>
<rect x="513" y="441" width="1" height="37" fill="#089981"/>
<rect x="511" y="444" width="5" height="22" fill="#089981"/>
<rect x="521" y="439" width="1" height="33" fill="#f23645"/>
<rect x="519" y="441" width="5" height="23" fill="#f23645"/>
<rect x="530" y="446" width="1" height="28" fill="#089981"/>
<rect x="528" y="462" width="5" height="2" fill="#089981"/>
<rect x="538" y="427" width="1" height="37" fill="#089981"/>
<rect x="536" y="449" width="5" height="12" fill="#089981"/>
<rect x="546" y="439" width="1" height="23" fill="#f23645"/>
<rect x="544" y="448" width="5" height="9" fill="#f23645"/>
<rect x="554" y="442" width="1" height="37" fill="#089981"/>
<rect x="552" y="455" width="5" height="4" fill="#089981"/>
<rect x="562" y="450" width="1" height="21" fill="#f23645"/>
<rect x="560" y="452" width="5" height="3" fill="#f23645"/>
<rect x="571" y="432" width="1" height="32" fill="#089981"/>
<rect x="569" y="443" width="5" height="16" fill="#089981"/>
<rect x="579" y="408" width="1" height="39" fill="#089981"/>
<rect x="577" y="414" width="5" height="23" fill="#089981"/>
<rect x="587" y="383" width="1" height="32" fill="#089981"/>
<rect x="585" y="405" width="5" height="8" fill="#089981"/>
<rect x="595" y="406" width="1" height="44" fill="#f23645"/>
<rect x="593" y="413" width="5" height="29" fill="#f23645"/>
<rect x="603" y="438" width="1" height="49" fill="#f23645"/>
<rect x="601" y="443" width="5" height="41" fill="#f23645"/>
<rect x="611" y="469" width="1" height="26" fill="#f23645"/>
<rect x="609" y="479" width="5" height="12" fill="#f23645"/>
<rect x="620" y="483" width="1" height="47" fill="#f23645"/>
<rect x="618" y="491" width="5" height="32" fill="#f23645"/>
<rect x="628" y="492" width="1" height="41" fill="#089981"/>
<rect x="626" y="505" width="5" height="23" fill="#089981"/>
<rect x="636" y="473" width="1" height="36" fill="#089981"/>
<rect x="634" y="473" width="5" height="35" fill="#089981"/>
<rect x="644" y="452" width="1" height="22" fill="#089981"/>
<rect x="642" y="461" width="5" height="10" fill="#089981"/>
<rect x="652" y="448" width="1" height="26" fill="#f23645"/>
<rect x="650" y="460" width="5" height="12" fill="#f23645"/>
<rect x="660" y="436" width="1" height="51" fill="#089981"/>
<rect x="658" y="439" width="5" height="32" fill="#089981"/>
<rect x="669" y="422" width="1" height="25" fill="#f23645"/>
<rect x="667" y="438" width="5" height="5" fill="#f23645"/>
<rect x="677" y="435" width="1" height="37" fill="#f23645"/>
<rect x="675" y="443" width="5" height="23" fill="#f23645"/>
<rect x="685" y="440" width="1" height="28" fill="#089981"/>
<rect x="683" y="442" width="5" height="25" fill="#089981"/>
<rect x="693" y="451" width="1" height="24" fill="#f23645"/>
<rect x="691" y="453" width="5" height="19" fill="#f23645"/>
<rect x="701" y="460" width="1" height="30" fill="#089981"/>
<rect x="699" y="465" width="5" height="5" fill="#089981"/>
<rect x="709" y="457" width="1" height="54" fill="#f23645"/>
<rect x="707" y="469" width="5" height="18" fill="#f23645"/>
<rect x="718" y="454" width="1" height="35" fill="#f23645"/>
<rect x="716" y="484" width="5" height="3" fill="#f23645"/>
<rect x="726" y="480" width="1" height="30" fill="#f23645"/>
<rect x="724" y="485" width="5" height="24" fill="#f23645"/>
<rect x="734" y="489" width="1" height="28" fill="#f23645"/>
<rect x="732" y="513" width="5" height="1" fill="#f23645"/>
<rect x="742" y="511" width="1" height="29" fill="#f23645"/>
<rect x="740" y="512" width="5" height="25" fill="#f23645"/>
<rect x="750" y="530" width="1" height="23" fill="#089981"/>
<rect x="748" y="534" width="5" height="3" fill="#089981"/>
<rect x="758" y="508" width="1" height="34" fill="#089981"/>
<rect x="756" y="527" width="5" height="11" fill="#089981"/>
<rect x="767" y="526" width="1" height="44" fill="#f23645"/>
<rect x="765" y="531" width="5" height="34" fill="#f23645"/>
<rect x="775" y="519" width="1" height="39" fill="#089981"/>
<rect x="773" y="525" width="5" height="24" fill="#089981"/>
<rect x="783" y="498" width="1" height="26" fill="#089981"/>
<rect x="781" y="499" width="5" height="23" fill="#089981"/>
<rect x="791" y="492" width="1" height="26" fill="#089981"/>
<rect x="789" y="499" width="5" height="1" fill="#089981"/>
<rect x="799" y="471" width="1" height="27" fill="#089981"/>
<rect x="797" y="473" width="5" height="25" fill="#089981"/>
<rect x="807" y="476" width="1" height="27" fill="#f23645"/>
<rect x="805" y="482" width="5" height="13" fill="#f23645"/>
<rect x="816" y="467" width="1" height="30" fill="#089981"/>
<rect x="814" y="483" width="5" height="13" fill="#089981"/>
<rect x="824" y="474" width="1" height="27" fill="#f23645"/>
<rect x="822" y="480" width="5" height="13" fill="#f23645"/>
<rect x="832" y="508" width="1" height="21" fill="#f23645"/>
<rect x="830" y="508" width="5" height="15" fill="#f23645"/>
<rect x="840" y="505" width="1" height="28" fill="#089981"/>
<rect x="838" y="510" width="5" height="7" fill="#089981"/>
<rect x="848" y="500" width="1" height="23" fill="#f23645"/>
<rect x="846" y="508" width="5" height="15" fill="#f23645"/>
<rect x="856" y="495" width="1" height="28" fill="#089981"/>
<rect x="854" y="501" width="5" height="22" fill="#089981"/>
<rect x="865" y="474" width="1" height="30" fill="#f23645"/>
<rect x="863" y="493" width="5" height="4" fill="#f23645"/>
<rect x="873" y="471" width="1" height="33" fill="#f23645"/>
<rect x="871" y="488" width="5" height="12" fill="#f23645"/>
<rect x="881" y="468" width="1" height="39" fill="#089981"/>
<rect x="879" y="473" width="5" height="24" fill="#089981"/>
<rect x="889" y="445" width="1" height="59" fill="#f23645"/>
<rect x="887" y="468" width="5" height="19" fill="#f23645"/>
<rect x="897" y="459" width="1" height="40" fill="#f23645"/>
<rect x="895" y="481" width="5" height="17" fill="#f23645"/>
<rect x="905" y="491" width="1" height="38" fill="#f23645"/>
<rect x="903" y="491" width="5" height="37" fill="#f23645"/>
<rect x="914" y="474" width="1" height="54" fill="#089981"/>
<rect x="912" y="482" width="5" height="39" fill="#089981"/>
<rect x="922" y="478" width="1" height="18" fill="#089981"/>
<rect x="920" y="484" width="5" height="1" fill="#089981"/>
<rect x="930" y="460" width="1" height="24" fill="#089981"/>
<rect x="928" y="471" width="5" height="13" fill="#089981"/>
<rect x="938" y="437" width="1" height="29" fill="#089981"/>
<rect x="936" y="441" width="5" height="25" fill="#089981"/>
<rect x="946" y="411" width="1" height="31" fill="#089981"/>
<rect x="944" y="420" width="5" height="19" fill="#089981"/>
<rect x="954" y="417" width="1" height="28" fill="#f23645"/>
<rect x="952" y="418" width="5" height="14" fill="#f23645"/>
<rect x="963" y="397" width="1" height="39" fill="#089981"/>
<rect x="961" y="406" width="5" height="18" fill="#089981"/>
<rect x="971" y="379" width="1" height="33" fill="#089981"/>
<rect x="969" y="389" width="5" height="18" fill="#089981"/>
<rect x="979" y="379" width="1" height="20" fill="#089981"/>
<rect x="977" y="383" width="5" height="7" fill="#089981"/>
<rect x="987" y="349" width="1" height="37" fill="#089981"/>
<rect x="985" y="361" width="5" height="17" fill="#089981"/>
<rect x="995" y="350" width="1" height="61" fill="#f23645"/>
<rect x="993" y="358" width="5" height="47" fill="#f23645"/>
<rect x="1003" y="410" width="1" height="25" fill="#089981"/>
<rect x="1001" y="411" width="5" height="5" fill="#089981"/>
<rect x="1012" y="391" width="1" height="32" fill="#f23645"/>
<rect x="1010" y="400" width="5" height="7" fill="#f23645"/>
<rect x="1020" y="402" width="1" height="20" fill="#f23645"/>
<rect x="1018" y="405" width="5" height="11" fill="#f23645"/>
<rect x="1028" y="416" width="1" height="28" fill="#f23645"/>
<rect x="1026" y="423" width="5" height="19" fill="#f23645"/>
<rect x="1036" y="423" width="1" height="20" fill="#f23645"/>
<rect x="1034" y="431" width="5" height="8" fill="#f23645"/>
<rect x="1044" y="431" width="1" height="44" fill="#f23645"/>
<rect x="1042" y="433" width="5" height="38" fill="#f23645"/>
<rect x="1052" y="455" width="1" height="36" fill="#f23645"/>
<rect x="1050" y="467" width="5" height="21" fill="#f23645"/>
<rect x="1061" y="474" width="1" height="33" fill="#f23645"/>
<rect x="1059" y="478" width="5" height="22" fill="#f23645"/>
<rect x="1069" y="488" width="1" height="34" fill="#089981"/>
<rect x="1067" y="492" width="5" height="7" fill="#089981"/>
<rect x="1077" y="480" width="1" height="33" fill="#f23645"/>
<rect x="1075" y="492" width="5" height="18" fill="#f23645"/>
<rect x="1085" y="456" width="1" height="39" fill="#089981"/>
<rect x="1083" y="459" width="5" height="19" fill="#089981"/>
<rect x="1093" y="440" width="1" height="39" fill="#f23645"/>
<rect x="1091" y="458" width="5" height="15" fill="#f23645"/>
<rect x="1101" y="470" width="1" height="21" fill="#f23645"/>
<rect x="1099" y="474" width="5" height="3" fill="#f23645"/>
<rect x="1110" y="460" width="1" height="37" fill="#f23645"/>
<rect x="1108" y="476" width="5" height="16" fill="#f23645"/>
<rect x="1118" y="474" width="1" height="26" fill="#089981"/>
<rect x="1116" y="491" width="5" height="4" fill="#089981"/>
<rect x="1126" y="484" width="1" height="35" fill="#f23645"/>
<rect x="1124" y="490" width="5" height="26" fill="#f23645"/>
<rect x="1134" y="490" width="1" height="25" fill="#089981"/>
<rect x="1132" y="496" width="5" height="14" fill="#089981"/>
<rect x="1142" y="443" width="1" height="45" fill="#089981"/>
<rect x="1140" y="445" width="5" height="41" fill="#089981"/>
<rect x="1151" y="424" width="1" height="36" fill="#089981"/>
<rect x="1149" y="425" width="5" height="22" fill="#089981"/>
<rect x="1159" y="416" width="1" height="30" fill="#f23645"/>
<rect x="1157" y="424" width="5" height="6" fill="#f23645"/>
<rect x="1167" y="385" width="1" height="67" fill="#089981"/>
<rect x="1165" y="415" width="5" height="25" fill="#089981"/>
<rect x="1175" y="333" width="1" height="85" fill="#089981"/>
<rect x="1173" y="336" width="5" height="74" fill="#089981"/>
<rect x="1183" y="120" width="1" height="142" fill="#f23645"/>
<rect x="1181" y="179" width="5" height="59" fill="#f23645"/>
<rect x="1191" y="228" width="1" height="106" fill="#f23645"/>
<rect x="1189" y="236" width="5" height="71" fill="#f23645"/>
<rect x="1200" y="266" width="1" height="56" fill="#089981"/>
<rect x="1198" y="271" width="5" height="23" fill="#089981"/>
<rect x="1208" y="207" width="1" height="59" fill="#089981"/>
<rect x="1206" y="250" width="5" height="6" fill="#089981"/>
<rect x="1216" y="217" width="1" height="34" fill="#089981"/>
<rect x="1214" y="235" width="5" height="8" fill="#089981"/>
<rect x="1224" y="180" width="1" height="27" fill="#089981"/>
<rect x="1222" y="194" width="5" height="12" fill="#089981"/>
<rect x="1232" y="200" width="1" height="33" fill="#f23645"/>
<rect x="1230" y="212" width="5" height="19" fill="#f23645"/>
<rect x="1240" y="206" width="1" height="80" fill="#f23645"/>
<rect x="1238" y="214" width="5" height="43" fill="#f23645"/>
<rect x="1249" y="199" width="1" height="54" fill="#089981"/>
<rect x="1247" y="215" width="5" height="23" fill="#089981"/>
<rect x="1257" y="222" width="1" height="37" fill="#f23645"/>
<rect x="1255" y="234" width="5" height="19" fill="#f23645"/>
<rect x="1265" y="236" width="1" height="49" fill="#f23645"/>
<rect x="1263" y="246" width="5" height="27" fill="#f23645"/>
<rect x="1273" y="227" width="1" height="53" fill="#089981"/>
<rect x="1271" y="229" width="5" height="42" fill="#089981"/>
<rect x="1281" y="221" width="1" height="20" fill="#089981"/>
<rect x="1279" y="222" width="5" height="3" fill="#089981"/>
</g>
<line x1="1" y1="222.5" x2="1303" y2="222.5" stroke="#089981" stroke-width="1" stroke-dasharray="1,2" shape-rendering="crispEdges"/>
<text x="1402" y="77" font-size="15.6" fill="#131722" textLength="37" lengthAdjust="spacingAndGlyphs">4,900</text>
<text x="1402" y="127" font-size="15.6" fill="#131722" textLength="37" lengthAdjust="spacingAndGlyphs">4,800</text>
<text x="1402" y="176" font-size="15.6" fill="#131722" textLength="37" lengthAdjust="spacingAndGlyphs">4,700</text>
<text x="1402" y="275" font-size="15.6" fill="#131722" textLength="37" lengthAdjust="spacingAndGlyphs">4,500</text>
<text x="1402" y="325" font-size="15.6" fill="#131722" textLength="37" lengthAdjust="spacingAndGlyphs">4,400</text>
<text x="1402" y="374" font-size="15.6" fill="#131722" textLength="37" lengthAdjust="spacingAndGlyphs">4,300</text>
<text x="1402" y="473" font-size="15.6" fill="#131722" textLength="37" lengthAdjust="spacingAndGlyphs">4,100</text>
<text x="1402" y="522" font-size="15.6" fill="#131722" textLength="37" lengthAdjust="spacingAndGlyphs">4,000</text>
<text x="1402" y="572" font-size="15.6" fill="#131722" textLength="37" lengthAdjust="spacingAndGlyphs">3,900</text>
<text x="1402" y="621" font-size="15.6" fill="#131722" textLength="37" lengthAdjust="spacingAndGlyphs">3,800</text>
<text x="1402" y="670" font-size="15.6" fill="#131722" textLength="37" lengthAdjust="spacingAndGlyphs">3,700</text>
<path d="M1305,212 h86 v21 h-86 a2,2 0 0 1 -2,-2 v-17 a2,2 0 0 1 2,-2 z" fill="#089981"/>
<text x="1308.8" y="227.5" font-size="15.5" fill="#ffffff" stroke="#ffffff" stroke-width="0.3" textLength="76.8" lengthAdjust="spacingAndGlyphs">FCPOM2026</text>
<path d="M1392,212 h73 a2,2 0 0 1 2,2 v34.5 a2,2 0 0 1 -2,2 h-73 z" fill="#089981"/>
<text x="1402.5" y="227" font-size="15" fill="#ffffff" stroke="#ffffff" stroke-width="0.25" textLength="37.5" lengthAdjust="spacingAndGlyphs">4,597</text>
<text x="1402.5" y="245" font-size="15" fill="#ffffff" fill-opacity="0.75" stroke="#ffffff" stroke-opacity="0.75" stroke-width="0.25" textLength="58.5" lengthAdjust="spacingAndGlyphs">09:44:42</text>
<path d="M1392,387 h52 a2,2 0 0 1 2,2 v17 a2,2 0 0 1 -2,2 h-52 z" fill="#2962ff"/>
<path d="M1392,408 h52 a2,2 0 0 1 2,2 v16.7 a2,2 0 0 1 -2,2 h-52 z" fill="#f23645"/>
<text x="1402.5" y="401.6" font-size="15" fill="#ffffff" stroke="#ffffff" stroke-width="0.25" textLength="37.5" lengthAdjust="spacingAndGlyphs">4,244</text>
<text x="1402.5" y="422.8" font-size="15" fill="#ffffff" stroke="#ffffff" stroke-width="0.25" textLength="37.5" lengthAdjust="spacingAndGlyphs">4,228</text>
<path d="M1392,706 h56 a2,2 0 0 1 2,2 v17 a2,2 0 0 1 -2,2 h-56 z" fill="#26a69a"/>
<text x="1402.9" y="722" font-size="15.4" fill="#ffffff" fill-opacity="0.93" stroke="#ffffff" stroke-opacity="0.93" stroke-width="0.45" textLength="29.2" lengthAdjust="spacingAndGlyphs">6.76</text>
<text x="1434.9" y="722" font-size="15" fill="#ffffff" fill-opacity="0.93" stroke="#ffffff" stroke-opacity="0.93" stroke-width="0.45" textLength="8.6" lengthAdjust="spacingAndGlyphs">K</text>
<text x="151.0" y="755.5" font-size="15" fill="#131722" textLength="23" lengthAdjust="spacingAndGlyphs">Sep</text>
<text x="298.0" y="755.5" font-size="15" fill="#131722" textLength="23" lengthAdjust="spacingAndGlyphs">Oct</text>
<text x="477.4" y="755.5" font-size="15" fill="#131722" textLength="24.2" lengthAdjust="spacingAndGlyphs">Nov</text>
<text x="640.6" y="755.5" font-size="15" fill="#131722" textLength="23.8" lengthAdjust="spacingAndGlyphs">Dec</text>
<text x="815.8" y="755.5" font-size="15.6" font-weight="bold" fill="#131722" textLength="33.5" lengthAdjust="spacingAndGlyphs">2026</text>
<text x="991.8" y="755.5" font-size="15" fill="#131722" textLength="23.5" lengthAdjust="spacingAndGlyphs">Feb</text>
<text x="1130.2" y="755.5" font-size="15" fill="#131722" textLength="24.5" lengthAdjust="spacingAndGlyphs">Mar</text>
<text x="1294.9" y="755.5" font-size="15" fill="#131722" textLength="23.2" lengthAdjust="spacingAndGlyphs">Apr</text>
<circle cx="1281.5" cy="716.3" r="14.3" fill="#ffffff"/>
<circle cx="1281.5" cy="716.3" r="12.4" fill="#ffffff" stroke="#9118ab" stroke-width="1.6"/>
<polygon points="1284.1,709.8 1285.9,710.4 1282.0,715.7 1287.8,715.4 1286.2,716.6 1278.7,723.2 1277.0,722.4 1281.5,717.2 1275.2,717.5 1277.0,716.1" fill="#9118ab"/>
</svg>
</body></html>
